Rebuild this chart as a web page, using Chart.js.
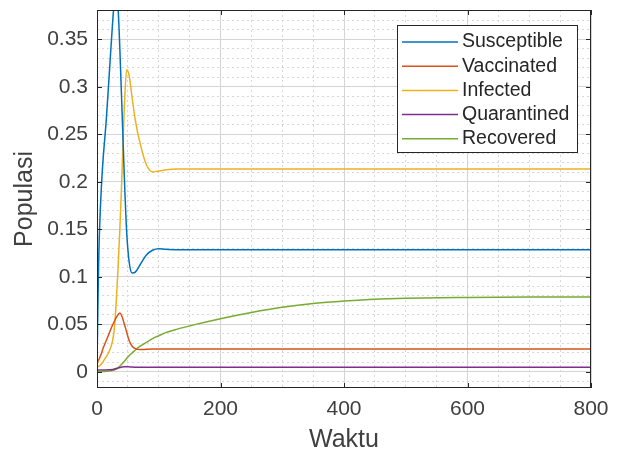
<!DOCTYPE html>
<html>
<head>
<meta charset="utf-8">
<script src="https://cdn.jsdelivr.net/npm/chart.js@4.4.1/dist/chart.umd.min.js"></script>
<style>
  html, body { margin: 0; padding: 0; background: #fff; }
  #wrap { width: 627px; height: 456px; }
</style>
</head>
<body>
<div id="wrap"><canvas id="myChart" width="627" height="456"></canvas></div>
<script>
// data
var waktu =       [0, 1, 2, 3, 5, 8, 10, 15, 20, 25, 28, 31, 34, 37, 40, 44, 48, 52, 57, 62, 70, 80, 90, 100, 110, 130, 160, 200, 250, 300, 350, 400, 450, 500, 600, 700, 800];
var susceptible = [0.010, 0.050, 0.090, 0.125, 0.165, 0.205, 0.225, 0.265, 0.315, 0.365, 0.390, 0.400, 0.385, 0.340, 0.285, 0.210, 0.148, 0.116, 0.104, 0.105, 0.113, 0.123, 0.128, 0.1295, 0.129, 0.1285, 0.1285, 0.1285, 0.1285, 0.1285, 0.1285, 0.1285, 0.1285, 0.1285, 0.1285, 0.1285, 0.1285];
var vaccinated =  [0.009, 0.010, 0.012, 0.013, 0.016, 0.021, 0.025, 0.033, 0.041, 0.049, 0.053, 0.057, 0.060, 0.062, 0.059, 0.051, 0.042, 0.033, 0.027, 0.0245, 0.0235, 0.0238, 0.024, 0.024, 0.024, 0.024, 0.024, 0.024, 0.024, 0.024, 0.024, 0.024, 0.024, 0.024, 0.024, 0.024, 0.024];
var infected =    [0.005, 0.005, 0.006, 0.006, 0.007, 0.009, 0.011, 0.016, 0.022, 0.032, 0.045, 0.072, 0.108, 0.150, 0.200, 0.275, 0.318, 0.312, 0.288, 0.265, 0.240, 0.218, 0.2105, 0.2115, 0.2125, 0.2135, 0.2135, 0.2135, 0.2135, 0.2135, 0.2135, 0.2135, 0.2135, 0.2135, 0.2135, 0.2135, 0.2135];
var quarantined = [0.002, 0.002, 0.002, 0.002, 0.002, 0.002, 0.002, 0.002, 0.0022, 0.0025, 0.003, 0.0035, 0.004, 0.0045, 0.005, 0.0055, 0.0055, 0.0053, 0.005, 0.0049, 0.0048, 0.0048, 0.0048, 0.0048, 0.0048, 0.0048, 0.0048, 0.0048, 0.0048, 0.0048, 0.0048, 0.0048, 0.0048, 0.0048, 0.0048, 0.0048, 0.0048];
var recovered =   [0.0, 0.0, 0.0, 0.0, 0.0, 0.0002, 0.0003, 0.0006, 0.001, 0.0015, 0.002, 0.003, 0.004, 0.006, 0.008, 0.011, 0.014, 0.017, 0.020, 0.023, 0.027, 0.031, 0.035, 0.038, 0.041, 0.045, 0.050, 0.056, 0.0625, 0.068, 0.072, 0.0745, 0.0765, 0.0775, 0.0783, 0.0787, 0.0788];

var seriesNames = ['Susceptible', 'Vaccinated', 'Infected', 'Quarantined', 'Recovered'];
var seriesData = [susceptible, vaccinated, infected, quarantined, recovered];
var seriesColors = ['#0072BD', '#D95319', '#EDB120', '#7E2F8E', '#77AC30'];

var xTicks = [0, 200, 400, 600, 800];
var yTicks = [0, 0.05, 0.1, 0.15, 0.2, 0.25, 0.3, 0.35];

function toPoints(arr){
    var pts = [];
    for (var i = 0; i < waktu.length; i++) {
        pts.push({x: waktu[i], y: arr[i]});
    }
    return pts;
}

var datasets = [];
for (var i = 0; i < seriesNames.length; i++) {
    datasets.push({
        label: seriesNames[i],
        data: toPoints(seriesData[i]),
        borderColor: seriesColors[i],
        backgroundColor: seriesColors[i],
        borderWidth: 1.5,
        pointRadius: 0,
        cubicInterpolationMode: 'monotone',
        xAxisID: 'x',
        yAxisID: 'y'
    });
}

// box around plot area + inward tick marks + legend inside the plot
var boxPlugin = {
    id: 'boxPlugin',
    afterDatasetsDraw: function(chart){
        var ctx = chart.ctx;
        var a = chart.chartArea;
        var xs = chart.scales.x, ys = chart.scales.y;
        ctx.save();
        ctx.strokeStyle = '#262626';
        ctx.lineWidth = 1;
        ctx.strokeRect(a.left + 0.5, a.top + 0.5, a.right - a.left - 1, a.bottom - a.top - 1);
        ctx.beginPath();
        xTicks.forEach(function(v){
            var px = Math.round(xs.getPixelForValue(v)) + 0.5;
            ctx.moveTo(px, a.bottom); ctx.lineTo(px, a.bottom - 5);
            ctx.moveTo(px, a.top); ctx.lineTo(px, a.top + 5);
        });
        yTicks.forEach(function(v){
            var py = Math.round(ys.getPixelForValue(v)) + 0.5;
            ctx.moveTo(a.left, py); ctx.lineTo(a.left + 5, py);
            ctx.moveTo(a.right, py); ctx.lineTo(a.right - 5, py);
        });
        ctx.stroke();

        // legend
        var lx = 397, ly = 25, lw = 180, lh = 127;
        ctx.fillStyle = '#ffffff';
        ctx.fillRect(lx, ly, lw, lh);
        ctx.strokeStyle = '#262626';
        ctx.strokeRect(lx + 0.5, ly + 0.5, lw, lh);
        ctx.font = '19.5px "Liberation Sans", Arial, sans-serif';
        ctx.textBaseline = 'middle';
        ctx.textAlign = 'left';
        for (var i = 0; i < seriesNames.length; i++) {
            var ry = ly + 17 + i * 24.2;
            ctx.strokeStyle = seriesColors[i];
            ctx.lineWidth = 1.5;
            ctx.beginPath();
            ctx.moveTo(lx + 5, ry); ctx.lineTo(lx + 61, ry);
            ctx.stroke();
            ctx.fillStyle = '#262626';
            ctx.fillText(seriesNames[i], lx + 65, ry);
        }
        ctx.restore();
    }
};

const ctx = document.getElementById('myChart').getContext('2d');
const myChart = new Chart(ctx, {
    type: 'line',
    data: { datasets: datasets },
    options: {
        responsive: false,
        animation: false,
        layout: { padding: { left: 0, right: 36, top: 10, bottom: 0 } },
        plugins: {
            legend: { display: false },
            tooltip: { enabled: false }
        },
        scales: {
            xMinor: {
                type: 'linear', axis: 'x', position: 'bottom',
                min: 0, max: 800,
                ticks: { display: false, stepSize: 50, includeBounds: false },
                grid: { color: '#d8d8d8', lineWidth: 1, drawTicks: false },
                border: { display: false, dash: [2, 3] },
                afterFit: function(s){ s.height = 0; s.paddingLeft = 0; s.paddingRight = 0; }
            },
            yMinor: {
                type: 'linear', axis: 'y', position: 'left',
                min: -0.017, max: 0.381,
                ticks: { display: false, stepSize: 0.01, includeBounds: false },
                grid: { color: '#d8d8d8', lineWidth: 1, drawTicks: false },
                border: { display: false, dash: [2, 3] },
                afterFit: function(s){ s.width = 0; s.paddingTop = 0; s.paddingBottom = 0; }
            },
            x: {
                type: 'linear', position: 'bottom',
                min: 0, max: 800,
                ticks: {
                    stepSize: 200, includeBounds: false, padding: 9,
                    color: '#404040',
                    font: { family: '"Liberation Sans", Arial, sans-serif', size: 21 }
                },
                grid: { color: '#d4d4d4', lineWidth: 1, drawTicks: false },
                border: { display: false },
                title: {
                    display: true, text: 'Waktu', color: '#404040', padding: 1,
                    font: { family: '"Liberation Sans", Arial, sans-serif', size: 25 }
                },
                afterFit: function(s){ s.height = 68; s.paddingLeft = 0; s.paddingRight = 0; }
            },
            y: {
                type: 'linear', position: 'left',
                min: -0.017, max: 0.381,
                ticks: {
                    stepSize: 0.05, includeBounds: false, padding: 9,
                    color: '#404040',
                    font: { family: '"Liberation Sans", Arial, sans-serif', size: 21 },
                    callback: function(v){ return String(Math.round(v * 100) / 100); }
                },
                grid: { color: '#d4d4d4', lineWidth: 1, drawTicks: false },
                border: { display: false },
                title: {
                    display: true, text: 'Populasi', color: '#404040', padding: 10,
                    font: { family: '"Liberation Sans", Arial, sans-serif', size: 25 }
                },
                afterFit: function(s){ s.width = 97; s.paddingTop = 0; s.paddingBottom = 0; }
            }
        }
    },
    plugins: [boxPlugin]
});
</script>
</body>
</html>
